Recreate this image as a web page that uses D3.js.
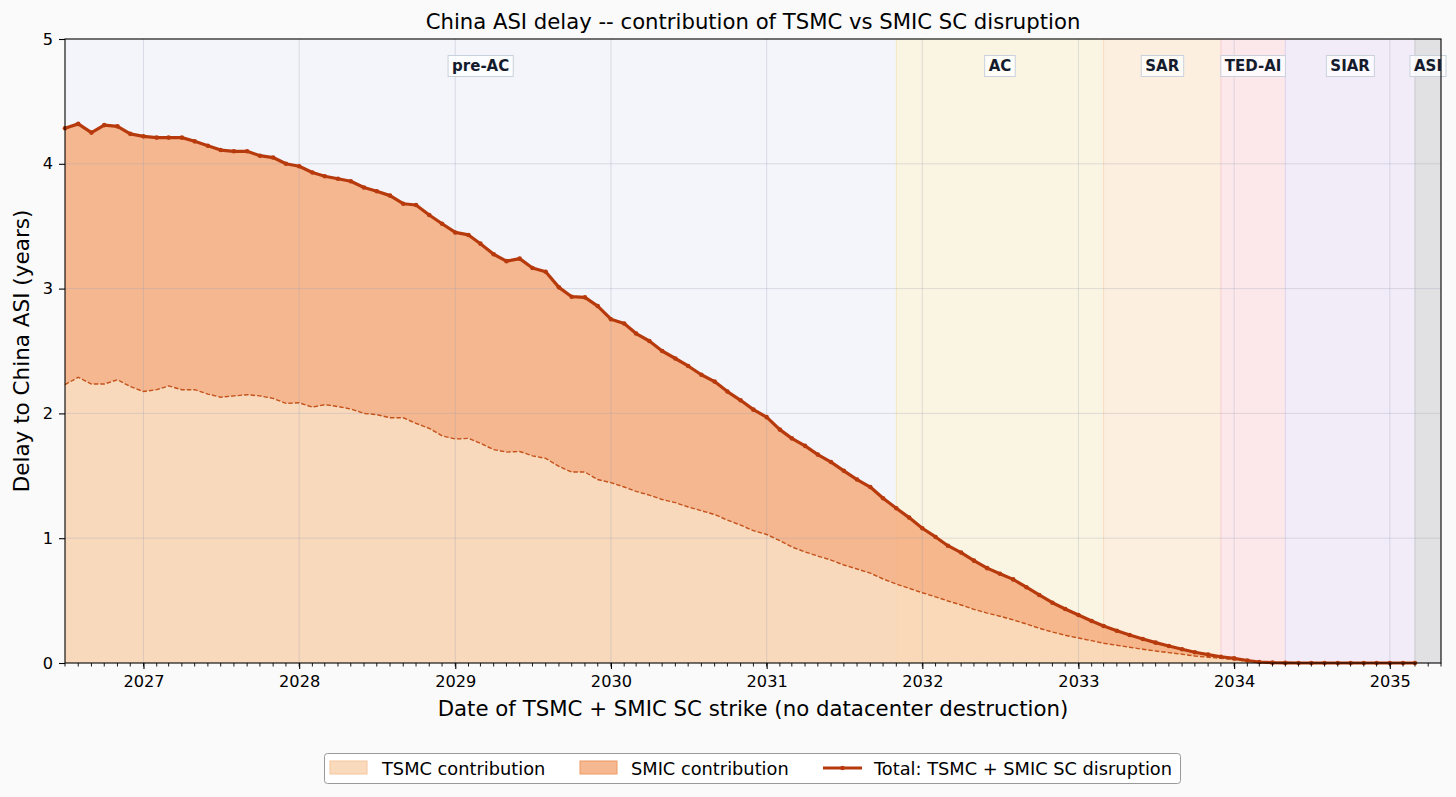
<!DOCTYPE html>
<html>
<head>
<meta charset="utf-8">
<script src="https://cdn.jsdelivr.net/npm/d3@7/dist/d3.min.js"></script>
<style>
  html, body { margin: 0; padding: 0; background: #fafafa; }
  svg { display: block; font-family: "DejaVu Sans", sans-serif; }
</style>
</head>
<body>
<svg id="chart" width="1456" height="797"></svg>
<script>
// ---------------- DATA ----------------
const firstMonth = "2026-07-01";   // first strike date (monthly series)
const axisStart = "2026-07-01";
const axisEnd = "2035-05-01";

// Total delay (TSMC + SMIC SC disruption), years, monthly from Jul 2026
const totalDelay = [
  4.285, 4.32, 4.25, 4.31, 4.30, 4.24, 4.22, 4.21, 4.21, 4.21,
  4.18, 4.145, 4.11, 4.10, 4.10, 4.065, 4.05, 4.00, 3.98, 3.93,
  3.90, 3.88, 3.86, 3.81, 3.78, 3.745, 3.68, 3.67, 3.59, 3.52,
  3.45, 3.43, 3.36, 3.275, 3.22, 3.24, 3.165, 3.135, 3.01, 2.935,
  2.93, 2.86, 2.755, 2.72, 2.64, 2.58, 2.50, 2.44, 2.38, 2.31,
  2.255, 2.175, 2.105, 2.03, 1.97, 1.87, 1.80, 1.74, 1.67, 1.61,
  1.54, 1.47, 1.41, 1.32, 1.24, 1.165, 1.08, 1.01, 0.94, 0.885,
  0.82, 0.76, 0.715, 0.67, 0.607, 0.545, 0.483, 0.433, 0.385, 0.337,
  0.296, 0.259, 0.224, 0.192, 0.163, 0.136, 0.11, 0.086, 0.067, 0.05,
  0.037, 0.02, 0.008, 0.003, 0.001, 0, 0, 0, 0, 0,
  0, 0, 0, 0, 0
];

// TSMC-only contribution, years
const tsmcContribution = [
  2.23, 2.29, 2.235, 2.235, 2.27, 2.215, 2.175, 2.19, 2.22, 2.19,
  2.19, 2.155, 2.13, 2.14, 2.15, 2.14, 2.12, 2.08, 2.085, 2.05,
  2.07, 2.055, 2.035, 2.00, 1.99, 1.965, 1.965, 1.92, 1.88, 1.82,
  1.795, 1.80, 1.76, 1.71, 1.69, 1.695, 1.66, 1.64, 1.575, 1.53,
  1.53, 1.47, 1.445, 1.41, 1.375, 1.345, 1.31, 1.285, 1.25, 1.22,
  1.19, 1.145, 1.105, 1.06, 1.03, 0.98, 0.93, 0.89, 0.857, 0.825,
  0.785, 0.753, 0.72, 0.673, 0.633, 0.598, 0.563, 0.53, 0.497, 0.465,
  0.43, 0.40, 0.375, 0.345, 0.313, 0.278, 0.248, 0.222, 0.20, 0.179,
  0.158, 0.142, 0.126, 0.11, 0.096, 0.083, 0.07, 0.056, 0.046, 0.037,
  0.028, 0.014, 0.005, 0.002, 0, 0, 0, 0, 0, 0,
  0, 0, 0, 0, 0
];

// Phases (background bands)
const phaseNames  = ["pre-AC", "AC", "SAR", "TED-AI", "SIAR", "ASI"];
const phaseStarts = ["2026-07-01", "2031-11-01", "2033-03-01", "2033-12-01", "2034-05-01", "2035-03-01"];
const phaseEnds   = ["2031-11-01", "2033-03-01", "2033-12-01", "2034-05-01", "2035-03-01", "2035-05-01"];
const phaseColors = ["#f3f5fb", "#faf5e3", "#fcefdf", "#fce8eb", "#f2ecf9", "#e1e1e4"];
const phaseEdges  = ["#e6e9f3", "#f2e6bf", "#f6dcc0", "#f6cdd4", "#ddd3ec", "#c9c9cf"];

const yTicks = [0, 1, 2, 3, 4, 5];
const legendLabels = ["TSMC contribution", "SMIC contribution", "Total: TSMC + SMIC SC disruption"];

const titleText = "China ASI delay -- contribution of TSMC vs SMIC SC disruption";
const xLabelText = "Date of TSMC + SMIC SC strike (no datacenter destruction)";
const yLabelText = "Delay to China ASI (years)";

// ---------------- CHART ----------------
const svg = d3.select("#chart");
const W = 1456, H = 797;
const m = { left: 65, right: 1441, top: 39, bottom: 663 };

svg.append("rect").attr("width", W).attr("height", H).attr("fill", "#fafafa");

const parse = d3.utcParse("%Y-%m-%d");
const start = parse(firstMonth);
const data = totalDelay.map((t, i) => ({
  date: d3.utcMonth.offset(start, i),
  total: t,
  tsmc: tsmcContribution[i]
}));

const x = d3.scaleUtc().domain([parse(axisStart), parse(axisEnd)]).range([m.left, m.right]);
const y = d3.scaleLinear().domain([0, 5]).range([m.bottom, m.top]);

const C_TSMC = "#f8d3b0";
const C_SMIC = "#f4ac7c";
const C_TOTAL = "#b73a0d";
const C_DASH = "#c4521a";

// phase bands
const phases = phaseNames.map((n, i) => ({
  name: n, s: parse(phaseStarts[i]), e: parse(phaseEnds[i]), c: phaseColors[i], edge: phaseEdges[i]
}));
svg.append("g").selectAll("rect").data(phases).join("rect")
  .attr("x", d => x(d.s)).attr("y", m.top)
  .attr("width", d => x(d.e) - x(d.s)).attr("height", m.bottom - m.top)
  .attr("fill", d => d.c);
svg.append("g").selectAll("line").data(phases.slice(1)).join("line")
  .attr("x1", d => x(d.s)).attr("x2", d => x(d.s))
  .attr("y1", m.top).attr("y2", m.bottom)
  .attr("stroke", d => d.edge).attr("stroke-width", 1);

// areas
const areaTsmc = d3.area().x(d => x(d.date)).y0(y(0)).y1(d => y(d.tsmc));
const areaSmic = d3.area().x(d => x(d.date)).y0(d => y(d.tsmc)).y1(d => y(d.total));
svg.append("path").datum(data).attr("d", areaTsmc).attr("fill", C_TSMC).attr("fill-opacity", 0.85);
svg.append("path").datum(data).attr("d", areaSmic).attr("fill", C_SMIC).attr("fill-opacity", 0.85);

// grid
const yearTicks = x.ticks(d3.utcYear.every(1)).filter(d => d > x.domain()[0]);
const grid = svg.append("g").attr("stroke", "#9aa0b4").attr("stroke-opacity", 0.3).attr("stroke-width", 1);
grid.selectAll(".gx").data(yearTicks).join("line")
  .attr("x1", d => x(d)).attr("x2", d => x(d)).attr("y1", m.top).attr("y2", m.bottom);
grid.selectAll(".gy").data(yTicks.slice(1, -1)).join("line")
  .attr("x1", m.left).attr("x2", m.right).attr("y1", d => y(d)).attr("y2", d => y(d));

// TSMC dashed line
const lineTsmc = d3.line().x(d => x(d.date)).y(d => y(d.tsmc));
svg.append("path").datum(data).attr("d", lineTsmc)
  .attr("fill", "none").attr("stroke", C_DASH).attr("stroke-width", 1.4)
  .attr("stroke-dasharray", "4.5,2");

// Total line with markers
const lineTotal = d3.line().x(d => x(d.date)).y(d => y(d.total));
svg.append("path").datum(data).attr("d", lineTotal)
  .attr("fill", "none").attr("stroke", C_TOTAL).attr("stroke-width", 3.2)
  .attr("stroke-linejoin", "round");
svg.append("g").selectAll("circle").data(data).join("circle")
  .attr("cx", d => x(d.date)).attr("cy", d => y(d.total)).attr("r", 2.3)
  .attr("fill", C_TOTAL);

// phase labels
const lab = svg.append("g");
phases.forEach(p => {
  const cx = (x(p.s) + x(p.e)) / 2;
  const g = lab.append("g");
  const t = g.append("text").attr("x", cx).attr("y", 71)
    .attr("text-anchor", "middle").attr("font-size", 15).attr("font-weight", "bold")
    .attr("fill", "#141b2d").text(p.name);
  const bb = t.node().getBBox();
  g.insert("rect", "text")
    .attr("x", bb.x - 4).attr("y", bb.y - 1.5).attr("width", bb.width + 8).attr("height", bb.height + 3)
    .attr("fill", "#ffffff").attr("fill-opacity", 0.75)
    .attr("stroke", "#c9d2dc").attr("stroke-width", 1);
});

// spines
svg.append("rect").attr("x", m.left).attr("y", m.top)
  .attr("width", m.right - m.left).attr("height", m.bottom - m.top)
  .attr("fill", "none").attr("stroke", "#000").attr("stroke-width", 1.1);

// x axis
const xAxis = svg.append("g").attr("transform", `translate(0,${m.bottom})`);
xAxis.call(d3.axisBottom(x).ticks(d3.utcYear.every(1)).tickFormat(d3.utcFormat("%Y")).tickSize(6).tickPadding(6))
  .call(g => g.select(".domain").remove());
xAxis.selectAll("text").attr("font-size", 16.2).attr("font-family", "DejaVu Sans").attr("fill", "#000");
xAxis.selectAll("line").attr("stroke", "#000").attr("stroke-width", 1.1);
const minor = x.ticks(d3.utcMonth.every(1));
svg.append("g").selectAll("line").data(minor).join("line")
  .attr("x1", d => x(d)).attr("x2", d => x(d))
  .attr("y1", m.bottom).attr("y2", m.bottom + 3.5)
  .attr("stroke", "#000").attr("stroke-width", 0.9);

// y axis
const yAxis = svg.append("g").attr("transform", `translate(${m.left},0)`);
yAxis.call(d3.axisLeft(y).tickValues(yTicks).tickFormat(d3.format("d")).tickSize(6).tickPadding(6))
  .call(g => g.select(".domain").remove());
yAxis.selectAll("text").attr("font-size", 16.2).attr("font-family", "DejaVu Sans").attr("fill", "#000");
yAxis.selectAll("line").attr("stroke", "#000").attr("stroke-width", 1.1);

// title and labels
svg.append("text").attr("x", (m.left + m.right) / 2).attr("y", 29)
  .attr("text-anchor", "middle").attr("font-size", 21.2).attr("fill", "#000").text(titleText);
svg.append("text").attr("x", (m.left + m.right) / 2).attr("y", 716)
  .attr("text-anchor", "middle").attr("font-size", 21.3).attr("fill", "#000").text(xLabelText);
svg.append("text").attr("transform", `translate(29,${(m.top + m.bottom) / 2}) rotate(-90)`)
  .attr("text-anchor", "middle").attr("font-size", 21.5).attr("fill", "#000").text(yLabelText);

// legend
const lg = svg.append("g");
lg.append("rect").attr("x", 324.5).attr("y", 753.5).attr("width", 856).attr("height", 30)
  .attr("rx", 3).attr("fill", "#ffffff").attr("stroke", "#999").attr("stroke-width", 1);
const legendItems = [
  { type: "patch", fill: C_TSMC, stroke: "#f5c59c", px: 330, tx: 382 },
  { type: "patch", fill: C_SMIC, stroke: "#ec9a64", px: 580, tx: 631 },
  { type: "line", px: 823, tx: 874 }
];
legendItems.forEach((it, i) => {
  if (it.type === "patch") {
    lg.append("rect").attr("x", it.px).attr("y", 761).attr("width", 37).attr("height", 13)
      .attr("fill", it.fill).attr("fill-opacity", 0.85).attr("stroke", it.stroke).attr("stroke-width", 1);
  } else {
    lg.append("line").attr("x1", it.px).attr("x2", it.px + 39).attr("y1", 768).attr("y2", 768)
      .attr("stroke", C_TOTAL).attr("stroke-width", 3.2);
    lg.append("circle").attr("cx", it.px + 19.5).attr("cy", 768).attr("r", 2.3).attr("fill", C_TOTAL);
  }
  lg.append("text").attr("x", it.tx).attr("y", 774.5).attr("font-size", 17.8).attr("fill", "#000")
    .text(legendLabels[i]);
});
</script>
</body>
</html>
